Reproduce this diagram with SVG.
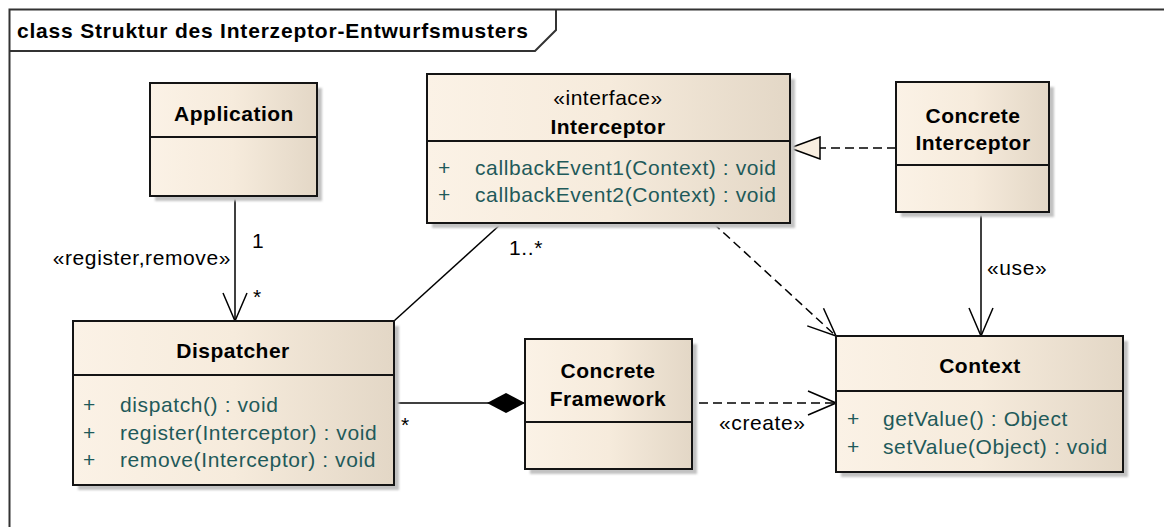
<svg xmlns="http://www.w3.org/2000/svg" width="1164" height="527" viewBox="0 0 1164 527">
  <defs>
    <linearGradient id="classFill" x1="0" y1="0" x2="1" y2="0">
      <stop offset="0" stop-color="#fbf2e6"/>
      <stop offset="0.5" stop-color="#f6ebdc"/>
      <stop offset="1" stop-color="#e3d7c6"/>
    </linearGradient>
    <filter id="soft" x="-5%" y="-5%" width="110%" height="110%">
      <feGaussianBlur stdDeviation="1.2"/>
    </filter>
    <!-- open arrowhead for associations and dependencies -->
    <marker id="open" viewBox="0 0 30 26" refX="29" refY="13" markerWidth="30" markerHeight="26" markerUnits="userSpaceOnUse" orient="auto">
      <path d="M1,1 L29,13 L1,25" fill="none" stroke="#000" stroke-width="1.5" stroke-dasharray="none"/>
    </marker>
    <!-- filled diamond for composition -->
    <marker id="diamond" viewBox="0 0 38 20" refX="38" refY="10" markerWidth="38" markerHeight="20" markerUnits="userSpaceOnUse" orient="auto">
      <path d="M0,10 L19,0 L38,10 L19,20 Z" fill="#000"/>
    </marker>
    <!-- hollow triangle for realization -->
    <marker id="triangle" viewBox="0 0 32 24" refX="31" refY="12" markerWidth="32" markerHeight="24" markerUnits="userSpaceOnUse" orient="auto">
      <path d="M31,12 L1,1 L1,23 Z" fill="#f8eee0" stroke="#000" stroke-width="1.5" stroke-dasharray="none"/>
    </marker>
  </defs>
  <style>
    .frame{fill:none;stroke:#333;stroke-width:2}
    .title{font-family:"Liberation Sans",Arial,sans-serif;font-size:21px;font-weight:bold;fill:#000;letter-spacing:0.8px}
    .box{fill:url(#classFill);stroke:#141414;stroke-width:2}
    .shadow{fill:#c2c2c2;filter:url(#soft)}
    .sep{stroke:#141414;stroke-width:2}
    .name{font-family:"Liberation Sans",Arial,sans-serif;font-size:21px;font-weight:bold;fill:#000;text-anchor:middle;letter-spacing:0.5px}
    .stereo{font-family:"Liberation Sans",Arial,sans-serif;font-size:21px;fill:#000;text-anchor:middle;letter-spacing:0.5px}
    .op{font-family:"Liberation Sans",Arial,sans-serif;font-size:21px;fill:#1f5a5a;letter-spacing:0.6px}
    .lbl{font-family:"Liberation Sans",Arial,sans-serif;font-size:21px;fill:#000;letter-spacing:0.6px}
    .line{stroke:#000;stroke-width:1.5;fill:none}
    .dash{stroke-dasharray:9 5}
  </style>

  <rect x="0" y="0" width="1164" height="527" fill="#fff"/>

  <!-- diagram frame -->
  <g id="frame">
    <path class="frame" d="M9.5,527 L9.5,9.5 L1164,9.5"/>
    <path class="frame" d="M9.5,51 L535,51 L556,30 L556,9.5"/>
    <text class="title" x="17" y="38">class Struktur des Interzeptor-Entwurfsmusters</text>
  </g>

  <!-- connectors -->
  <g id="connectors">
    <path class="line" d="M235,196 L235,321" marker-end="url(#open)"/>
    <path class="line" d="M502,223 L394,321"/>
    <path class="line dash" d="M896,148 L790,148" marker-end="url(#triangle)"/>
    <path class="line dash" d="M713,223 L836,336" marker-end="url(#open)"/>
    <path class="line" d="M981,212 L981,336" marker-end="url(#open)"/>
    <path class="line" d="M394,403 L525,403" marker-end="url(#diamond)"/>
    <path class="line dash" d="M699,403 L836,403" marker-end="url(#open)"/>

    <text class="lbl" x="252" y="248">1</text>
    <text class="lbl" x="231" y="265" text-anchor="end">«register,remove»</text>
    <text class="lbl" x="253" y="304">*</text>
    <text class="lbl" x="509" y="255">1..*</text>
    <text class="lbl" x="401" y="432">*</text>
    <text class="lbl" x="719" y="430">«create»</text>
    <text class="lbl" x="987" y="275">«use»</text>
  </g>

  <g id="application">
    <rect class="shadow" x="155" y="88" width="167" height="113"/>
    <rect class="box" x="150" y="83" width="167" height="113"/>
    <line class="sep" x1="150" y1="137" x2="317" y2="137"/>
    <text class="name" x="234" y="121">Application</text>
  </g>

  <g id="interceptor">
    <rect class="shadow" x="432" y="79" width="363" height="149"/>
    <rect class="box" x="427" y="74" width="363" height="149"/>
    <line class="sep" x1="427" y1="141" x2="790" y2="141"/>
    <text class="stereo" x="608" y="105">«interface»</text>
    <text class="name" x="608" y="134">Interceptor</text>
    <text class="op" x="438" y="175">+</text>
    <text class="op" x="475" y="175">callbackEvent1(Context) : void</text>
    <text class="op" x="438" y="202">+</text>
    <text class="op" x="475" y="202">callbackEvent2(Context) : void</text>
  </g>

  <g id="concrete-interceptor">
    <rect class="shadow" x="901" y="87" width="153" height="130"/>
    <rect class="box" x="896" y="82" width="153" height="130"/>
    <line class="sep" x1="896" y1="165" x2="1049" y2="165"/>
    <text class="name" x="973" y="123">Concrete</text>
    <text class="name" x="973" y="150">Interceptor</text>
  </g>

  <g id="dispatcher">
    <rect class="shadow" x="78" y="326" width="321" height="164"/>
    <rect class="box" x="73" y="321" width="321" height="164"/>
    <line class="sep" x1="73" y1="375" x2="394" y2="375"/>
    <text class="name" x="233" y="358">Dispatcher</text>
    <text class="op" x="83" y="412">+</text>
    <text class="op" x="120" y="412">dispatch() : void</text>
    <text class="op" x="83" y="440">+</text>
    <text class="op" x="120" y="440">register(Interceptor) : void</text>
    <text class="op" x="83" y="467">+</text>
    <text class="op" x="120" y="467">remove(Interceptor) : void</text>
  </g>

  <g id="concrete-framework">
    <rect class="shadow" x="530" y="344" width="167" height="130"/>
    <rect class="box" x="525" y="339" width="167" height="130"/>
    <line class="sep" x1="525" y1="422" x2="692" y2="422"/>
    <text class="name" x="608" y="378">Concrete</text>
    <text class="name" x="608" y="406">Framework</text>
  </g>

  <g id="context">
    <rect class="shadow" x="841" y="341" width="287" height="136"/>
    <rect class="box" x="836" y="336" width="287" height="136"/>
    <line class="sep" x1="836" y1="391" x2="1123" y2="391"/>
    <text class="name" x="980" y="373">Context</text>
    <text class="op" x="847" y="426">+</text>
    <text class="op" x="883" y="426">getValue() : Object</text>
    <text class="op" x="847" y="454">+</text>
    <text class="op" x="883" y="454">setValue(Object) : void</text>
  </g>
</svg>
